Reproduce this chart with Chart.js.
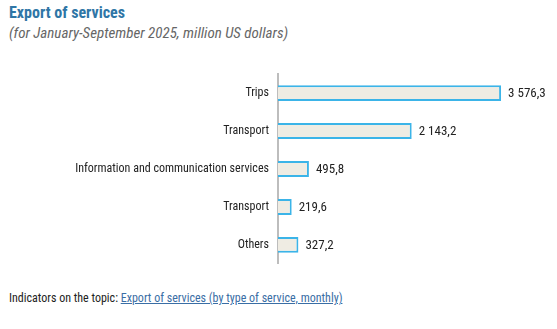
<!DOCTYPE html>
<html>
<head>
<meta charset="utf-8">
<script src="https://cdn.jsdelivr.net/npm/chart.js@4"></script>
<style>
  body { margin: 0; background: #fff; font-family: 'Roboto Condensed', 'Liberation Sans Narrow', Roboto, sans-serif; }
  #wrap { position: relative; width: 557px; height: 329px; }
  #title { position: absolute; left: 9px; top: 3px; font-size: 16px; font-weight: bold; color: #2f76a6; }
  #sub { position: absolute; left: 9px; top: 24px; font-size: 15px; font-style: italic; color: #666; }
  #chart { position: absolute; left: 0; top: 66px; }
  #foot { position: absolute; left: 9px; top: 291px; font-size: 12px; color: #222; }
  #foot a { color: #3a6ea5; text-decoration: underline; }
</style>
</head>
<body>
<div id="wrap">
  <div id="title">Export of services</div>
  <div id="sub">(for January-September 2025, million US dollars)</div>
  <canvas id="chart" width="557" height="206"></canvas>
  <div id="foot">Indicators on the topic: <a href="#">Export of services (by type of service, monthly)</a></div>
</div>
<script>
const categories = ["Trips", "Transport", "Information and communication services", "Transport", "Others"];
const values = [3576.3, 2143.2, 495.8, 219.6, 327.2];
const valueLabels = ["3 576,3", "2 143,2", "495,8", "219,6", "327,2"];

const fontFamily = "'Roboto Condensed', 'Liberation Sans Narrow', Roboto, sans-serif";

// draws the value next to each bar
const valuePlugin = {
    id: "valueLabels",
    afterDatasetsDraw(chart) {
        const ctx = chart.ctx;
        const meta = chart.getDatasetMeta(0);
        ctx.save();
        ctx.font = "13px " + fontFamily;
        ctx.fillStyle = "#222";
        ctx.textBaseline = "middle";
        meta.data.forEach((bar, i) => {
            ctx.fillText(valueLabels[i], bar.x + 7, bar.y + 1);
        });
        ctx.restore();
    }
};

new Chart(document.getElementById("chart"), {
    type: "bar",
    data: {
        labels: categories,
        datasets: [{
            data: values,
            backgroundColor: "#efece3",
            borderColor: "#3bb4e8",
            borderWidth: 2,
            barPercentage: 0.42,
            categoryPercentage: 1
        }]
    },
    options: {
        indexAxis: "y",
        responsive: false,
        animation: false,
        layout: { padding: { right: 17 } },
        scales: {
            x: { display: false, min: 0, max: 4200 },
            y: {
                afterFit(scale) { scale.width = 278; },
                grid: { display: false },
                border: { display: true, color: "#bdbdbd", width: 2 },
                ticks: {
                    color: "#222",
                    font: { size: 12, family: fontFamily },
                    padding: 1
                }
            }
        },
        plugins: {
            legend: { display: false },
            tooltip: { enabled: false }
        }
    },
    plugins: [valuePlugin]
});
</script>
</body>
</html>
